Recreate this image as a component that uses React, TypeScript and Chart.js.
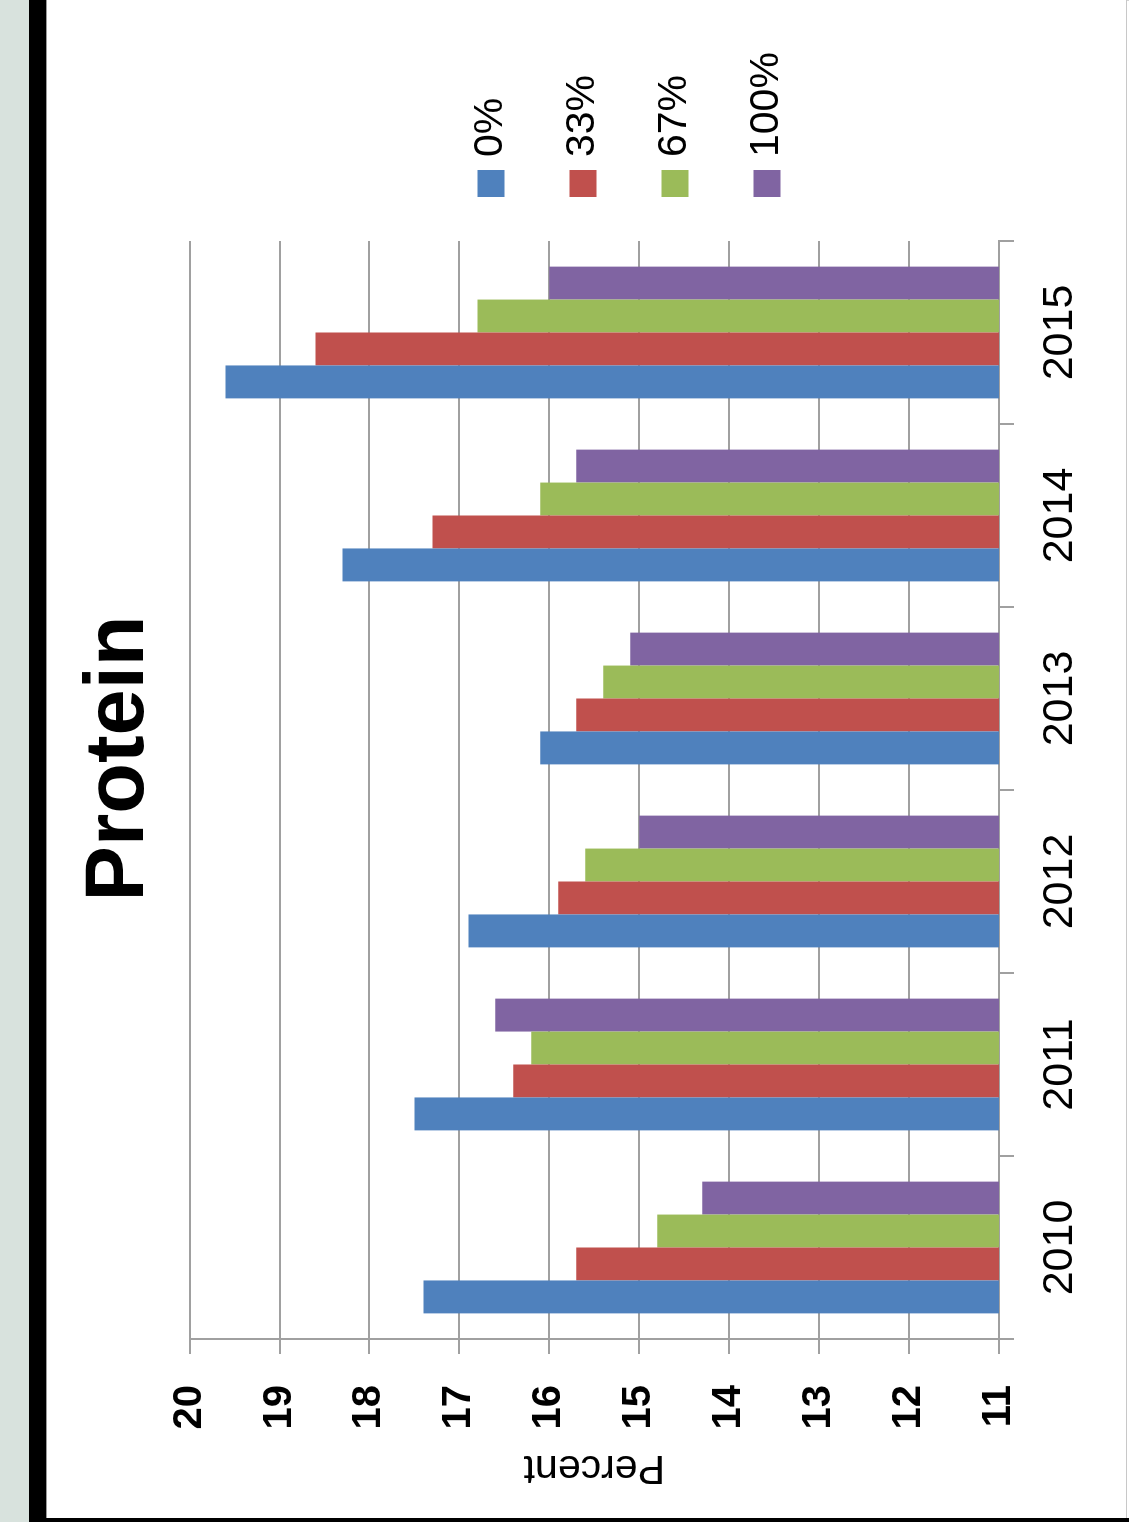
import React, { useEffect, useRef } from 'react';
import { Chart, registerables } from 'chart.js';

Chart.register(...registerables);

// Protein share by year, one series per substitution level
const years = ['2010', '2011', '2012', '2013', '2014', '2015'];
const seriesLabels = ['0%', '33%', '67%', '100%'];
const protein0 = [17.4, 17.5, 16.9, 16.1, 18.3, 19.6];
const protein33 = [15.7, 16.4, 15.9, 15.7, 17.3, 18.6];
const protein67 = [14.8, 16.2, 15.6, 15.4, 16.1, 16.8];
const protein100 = [14.3, 16.6, 15.0, 15.1, 15.7, 16.0];
const seriesColors = ['#4F81BD', '#C0504D', '#9BBB59', '#8064A2'];
const percentMin = 11;
const percentMax = 20;
const percentStep = 1;

// Canvas is laid out as an upright column chart, then turned a quarter turn
const CW = 1517;
const CH = 1079;
const AREA_LEFT = 178;
const AREA_BOTTOM = 952;
const RIGHT_SPACE = 241;
const SANS = "'Liberation Sans', Arial, sans-serif";
const GRID = '#a0a0a0';

const sideLegend = {
  id: 'sideLegend',
  afterDraw(chart: Chart) {
    const { ctx, chartArea } = chart;
    const x0 = chartArea.right + 44;
    ctx.save();
    ctx.font = `41px ${SANS}`;
    ctx.textAlign = 'left';
    ctx.textBaseline = 'middle';
    chart.data.datasets.forEach((ds, i) => {
      const cy = 444 + i * 92;
      ctx.fillStyle = ds.backgroundColor as string;
      ctx.fillRect(x0, cy - 13.5, 27, 27);
      ctx.fillStyle = '#000';
      ctx.fillText(String(ds.label), x0 + 40, cy);
    });
    ctx.restore();
  },
};

function ProteinChart() {
  const ref = useRef<HTMLCanvasElement | null>(null);

  useEffect(() => {
    if (!ref.current) return;
    Chart.defaults.font.family = SANS;
    const series = [protein0, protein33, protein67, protein100];
    const chart = new Chart(ref.current, {
      type: 'bar',
      data: {
        labels: years,
        datasets: series.map((values, i) => ({
          label: seriesLabels[i],
          data: values,
          backgroundColor: seriesColors[i],
          borderWidth: 0,
          categoryPercentage: 0.72,
          barPercentage: 1,
        })),
      },
      options: {
        responsive: false,
        animation: false,
        devicePixelRatio: 1,
        layout: { padding: 0 },
        plugins: {
          legend: { display: false },
          tooltip: { enabled: false },
          title: {
            display: true,
            text: 'Protein',
            color: '#000',
            font: { family: SANS, size: 83, weight: 'bold' },
            padding: { top: 23, bottom: 20 },
          },
        },
        scales: {
          x: {
            grid: {
              display: true,
              drawOnChartArea: false,
              color: GRID,
              lineWidth: 2,
              tickLength: 15,
              offset: true,
            },
            border: { display: true, color: GRID, width: 2 },
            ticks: {
              color: '#000',
              font: { family: SANS, size: 43 },
              padding: 20,
              maxRotation: 0,
              minRotation: 0,
              autoSkip: false,
            },
            afterFit: (s: any) => {
              s.height = CH - AREA_BOTTOM;
            },
          },
          y: {
            min: percentMin,
            max: percentMax,
            grid: { color: GRID, lineWidth: 2, tickLength: 15 },
            border: { display: true, color: GRID, width: 2 },
            ticks: {
              stepSize: percentStep,
              color: '#000',
              font: { family: SANS, size: 40, weight: 'bold' },
              padding: 31,
            },
            title: {
              display: true,
              text: 'Percent',
              color: '#000',
              font: { family: SANS, size: 41 },
              padding: { top: 25, bottom: 0 },
            },
            afterFit: (s: any) => {
              s.width = AREA_LEFT;
            },
          },
          legendSpace: {
            type: 'linear',
            position: 'right',
            grid: { display: false },
            border: { display: false },
            ticks: { display: false },
            afterFit: (s: any) => {
              s.width = RIGHT_SPACE;
            },
          },
        },
      },
      plugins: [sideLegend],
    } as any);
    return () => chart.destroy();
  }, []);

  return (
    <div
      style={{
        position: 'absolute',
        left: 0,
        top: 0,
        width: CW,
        height: CH,
        background: '#fff',
        transformOrigin: '0 0',
        transform: `translate(47px, ${CW}px) rotate(-90deg)`,
      }}
    >
      <canvas ref={ref} width={CW} height={CH} style={{ display: 'block', width: CW, height: CH }} />
    </div>
  );
}

export default function App() {
  return (
    <div
      style={{
        position: 'absolute',
        left: 0,
        top: 0,
        width: 1129,
        height: 1522,
        overflow: 'hidden',
        background: '#fff',
      }}
    >
      <div style={{ position: 'absolute', left: 0, top: 0, width: 29, height: 1522, background: '#d8e2dd' }} />
      <div style={{ position: 'absolute', left: 29, top: 0, width: 17, height: 1522, background: '#000' }} />
      <div style={{ position: 'absolute', left: 46, top: 0, width: 1, height: 1522, background: '#9a9a9a' }} />
      <div style={{ position: 'absolute', left: 47, top: 0, width: 1082, height: 1, background: '#d4d4d4' }} />
      <ProteinChart />
      <div style={{ position: 'absolute', left: 1126, top: 0, width: 1, height: 1522, background: '#c8c8c8' }} />
      <div style={{ position: 'absolute', left: 29, top: 1518, width: 1100, height: 4, background: '#000' }} />
    </div>
  );
}
